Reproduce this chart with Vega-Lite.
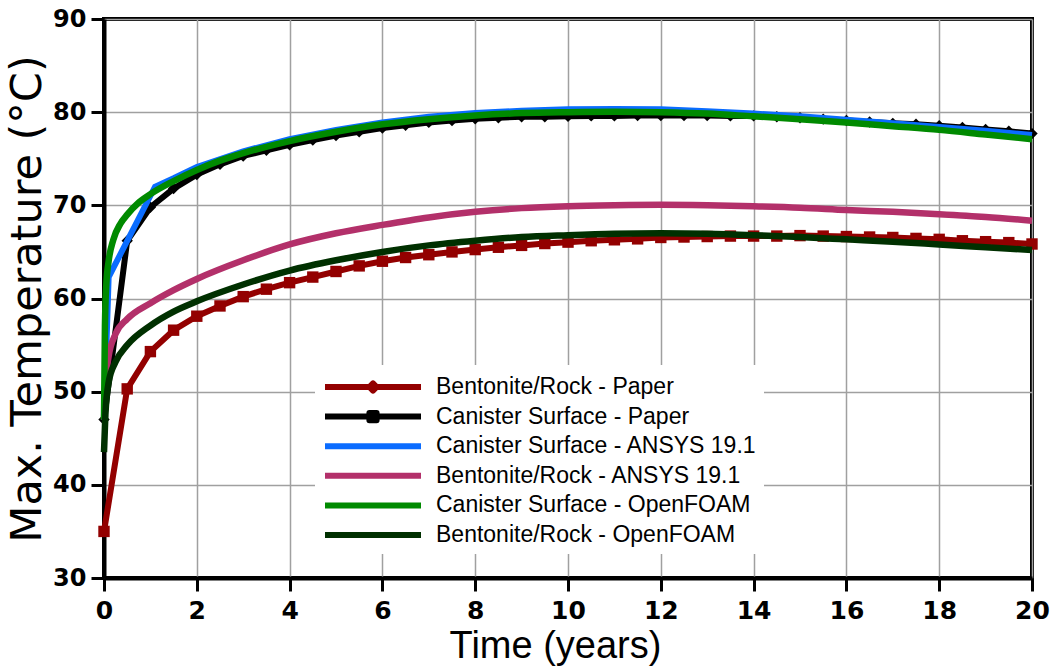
{
  "$schema": "https://vega.github.io/schema/vega-lite/v6.json",
  "width": 928,
  "height": 559,
  "autosize": "none",
  "padding": {"left": 104, "top": 19, "right": 20, "bottom": 93},
  "background": "white",
  "config": {
    "view": {"stroke": "black", "strokeWidth": 4},
    "axis": {
      "domainColor": "black", "domainWidth": 4,
      "tickColor": "black", "tickWidth": 3, "tickSize": 13,
      "gridColor": "#a0a0a0", "gridWidth": 1.5,
      "labelFont": "DejaVu Sans", "labelFontWeight": "bold", "labelFontSize": 24, "labelColor": "black",
      "titleFont": "Liberation Sans", "titleFontWeight": "normal", "titleColor": "black"
    }
  },
  "data": {"values": [
    {"t":0,"T":35,"series":"Bentonite/Rock - Paper"},{"t":0.5,"T":50.3,"series":"Bentonite/Rock - Paper"},{"t":1,"T":54.3,"series":"Bentonite/Rock - Paper"},{"t":1.5,"T":56.6,"series":"Bentonite/Rock - Paper"},{"t":2,"T":58.1,"series":"Bentonite/Rock - Paper"},{"t":2.5,"T":59.2,"series":"Bentonite/Rock - Paper"},{"t":3,"T":60.2,"series":"Bentonite/Rock - Paper"},{"t":3.5,"T":61.0,"series":"Bentonite/Rock - Paper"},{"t":4,"T":61.7,"series":"Bentonite/Rock - Paper"},{"t":4.5,"T":62.3,"series":"Bentonite/Rock - Paper"},{"t":5,"T":62.9,"series":"Bentonite/Rock - Paper"},{"t":5.5,"T":63.5,"series":"Bentonite/Rock - Paper"},{"t":6,"T":64.0,"series":"Bentonite/Rock - Paper"},{"t":6.5,"T":64.4,"series":"Bentonite/Rock - Paper"},{"t":7,"T":64.7,"series":"Bentonite/Rock - Paper"},{"t":7.5,"T":65.0,"series":"Bentonite/Rock - Paper"},{"t":8,"T":65.25,"series":"Bentonite/Rock - Paper"},{"t":8.5,"T":65.5,"series":"Bentonite/Rock - Paper"},{"t":9,"T":65.7,"series":"Bentonite/Rock - Paper"},{"t":9.5,"T":65.9,"series":"Bentonite/Rock - Paper"},{"t":10,"T":66.05,"series":"Bentonite/Rock - Paper"},{"t":10.5,"T":66.2,"series":"Bentonite/Rock - Paper"},{"t":11,"T":66.3,"series":"Bentonite/Rock - Paper"},{"t":11.5,"T":66.4,"series":"Bentonite/Rock - Paper"},{"t":12,"T":66.55,"series":"Bentonite/Rock - Paper"},{"t":12.5,"T":66.6,"series":"Bentonite/Rock - Paper"},{"t":13,"T":66.65,"series":"Bentonite/Rock - Paper"},{"t":13.5,"T":66.7,"series":"Bentonite/Rock - Paper"},{"t":14,"T":66.7,"series":"Bentonite/Rock - Paper"},{"t":14.5,"T":66.7,"series":"Bentonite/Rock - Paper"},{"t":15,"T":66.75,"series":"Bentonite/Rock - Paper"},{"t":15.5,"T":66.7,"series":"Bentonite/Rock - Paper"},{"t":16,"T":66.65,"series":"Bentonite/Rock - Paper"},{"t":16.5,"T":66.6,"series":"Bentonite/Rock - Paper"},{"t":17,"T":66.55,"series":"Bentonite/Rock - Paper"},{"t":17.5,"T":66.45,"series":"Bentonite/Rock - Paper"},{"t":18,"T":66.35,"series":"Bentonite/Rock - Paper"},{"t":18.5,"T":66.2,"series":"Bentonite/Rock - Paper"},{"t":19,"T":66.1,"series":"Bentonite/Rock - Paper"},{"t":19.5,"T":66.0,"series":"Bentonite/Rock - Paper"},{"t":20,"T":65.85,"series":"Bentonite/Rock - Paper"},
    {"t":0,"T":47,"series":"Canister Surface - Paper"},{"t":0.5,"T":66.2,"series":"Canister Surface - Paper"},{"t":1,"T":69.8,"series":"Canister Surface - Paper"},{"t":1.5,"T":71.8,"series":"Canister Surface - Paper"},{"t":2,"T":73.3,"series":"Canister Surface - Paper"},{"t":2.5,"T":74.4,"series":"Canister Surface - Paper"},{"t":3,"T":75.3,"series":"Canister Surface - Paper"},{"t":3.5,"T":75.9,"series":"Canister Surface - Paper"},{"t":4,"T":76.5,"series":"Canister Surface - Paper"},{"t":4.5,"T":77.0,"series":"Canister Surface - Paper"},{"t":5,"T":77.5,"series":"Canister Surface - Paper"},{"t":5.5,"T":77.9,"series":"Canister Surface - Paper"},{"t":6,"T":78.3,"series":"Canister Surface - Paper"},{"t":6.5,"T":78.6,"series":"Canister Surface - Paper"},{"t":7,"T":78.9,"series":"Canister Surface - Paper"},{"t":7.5,"T":79.1,"series":"Canister Surface - Paper"},{"t":8,"T":79.3,"series":"Canister Surface - Paper"},{"t":8.5,"T":79.4,"series":"Canister Surface - Paper"},{"t":9,"T":79.5,"series":"Canister Surface - Paper"},{"t":9.5,"T":79.5,"series":"Canister Surface - Paper"},{"t":10,"T":79.55,"series":"Canister Surface - Paper"},{"t":10.5,"T":79.6,"series":"Canister Surface - Paper"},{"t":11,"T":79.6,"series":"Canister Surface - Paper"},{"t":11.5,"T":79.65,"series":"Canister Surface - Paper"},{"t":12,"T":79.65,"series":"Canister Surface - Paper"},{"t":12.5,"T":79.65,"series":"Canister Surface - Paper"},{"t":13,"T":79.65,"series":"Canister Surface - Paper"},{"t":13.5,"T":79.6,"series":"Canister Surface - Paper"},{"t":14,"T":79.6,"series":"Canister Surface - Paper"},{"t":14.5,"T":79.5,"series":"Canister Surface - Paper"},{"t":15,"T":79.4,"series":"Canister Surface - Paper"},{"t":15.5,"T":79.25,"series":"Canister Surface - Paper"},{"t":16,"T":79.1,"series":"Canister Surface - Paper"},{"t":16.5,"T":78.95,"series":"Canister Surface - Paper"},{"t":17,"T":78.8,"series":"Canister Surface - Paper"},{"t":17.5,"T":78.7,"series":"Canister Surface - Paper"},{"t":18,"T":78.55,"series":"Canister Surface - Paper"},{"t":18.5,"T":78.35,"series":"Canister Surface - Paper"},{"t":19,"T":78.15,"series":"Canister Surface - Paper"},{"t":19.5,"T":77.95,"series":"Canister Surface - Paper"},{"t":20,"T":77.7,"series":"Canister Surface - Paper"},
    {"t":0,"T":47,"series":"Canister Surface - ANSYS 19.1"},{"t":0.1,"T":62.3,"series":"Canister Surface - ANSYS 19.1"},{"t":1.1,"T":72.0,"series":"Canister Surface - ANSYS 19.1"},{"t":1.5,"T":72.9,"series":"Canister Surface - ANSYS 19.1"},{"t":2,"T":74.1,"series":"Canister Surface - ANSYS 19.1"},{"t":3,"T":75.8,"series":"Canister Surface - ANSYS 19.1"},{"t":4,"T":77.1,"series":"Canister Surface - ANSYS 19.1"},{"t":5,"T":78.1,"series":"Canister Surface - ANSYS 19.1"},{"t":6,"T":78.9,"series":"Canister Surface - ANSYS 19.1"},{"t":7,"T":79.5,"series":"Canister Surface - ANSYS 19.1"},{"t":8,"T":79.9,"series":"Canister Surface - ANSYS 19.1"},{"t":9,"T":80.15,"series":"Canister Surface - ANSYS 19.1"},{"t":10,"T":80.3,"series":"Canister Surface - ANSYS 19.1"},{"t":11,"T":80.35,"series":"Canister Surface - ANSYS 19.1"},{"t":12,"T":80.3,"series":"Canister Surface - ANSYS 19.1"},{"t":13,"T":80.1,"series":"Canister Surface - ANSYS 19.1"},{"t":14,"T":79.85,"series":"Canister Surface - ANSYS 19.1"},{"t":15,"T":79.55,"series":"Canister Surface - ANSYS 19.1"},{"t":16,"T":79.2,"series":"Canister Surface - ANSYS 19.1"},{"t":17,"T":78.8,"series":"Canister Surface - ANSYS 19.1"},{"t":18,"T":78.4,"series":"Canister Surface - ANSYS 19.1"},{"t":19,"T":78.0,"series":"Canister Surface - ANSYS 19.1"},{"t":20,"T":77.55,"series":"Canister Surface - ANSYS 19.1"},
    {"t":0,"T":47,"series":"Bentonite/Rock - ANSYS 19.1"},{"t":0.03,"T":50.5,"series":"Bentonite/Rock - ANSYS 19.1"},{"t":0.1,"T":53.8,"series":"Bentonite/Rock - ANSYS 19.1"},{"t":0.25,"T":56.2,"series":"Bentonite/Rock - ANSYS 19.1"},{"t":0.5,"T":57.8,"series":"Bentonite/Rock - ANSYS 19.1"},{"t":1,"T":59.5,"series":"Bentonite/Rock - ANSYS 19.1"},{"t":1.5,"T":60.9,"series":"Bentonite/Rock - ANSYS 19.1"},{"t":2,"T":62.1,"series":"Bentonite/Rock - ANSYS 19.1"},{"t":3,"T":64.1,"series":"Bentonite/Rock - ANSYS 19.1"},{"t":4,"T":65.8,"series":"Bentonite/Rock - ANSYS 19.1"},{"t":5,"T":67.0,"series":"Bentonite/Rock - ANSYS 19.1"},{"t":6,"T":67.9,"series":"Bentonite/Rock - ANSYS 19.1"},{"t":7,"T":68.7,"series":"Bentonite/Rock - ANSYS 19.1"},{"t":8,"T":69.3,"series":"Bentonite/Rock - ANSYS 19.1"},{"t":9,"T":69.7,"series":"Bentonite/Rock - ANSYS 19.1"},{"t":10,"T":69.9,"series":"Bentonite/Rock - ANSYS 19.1"},{"t":11,"T":70.0,"series":"Bentonite/Rock - ANSYS 19.1"},{"t":12,"T":70.05,"series":"Bentonite/Rock - ANSYS 19.1"},{"t":13,"T":70.0,"series":"Bentonite/Rock - ANSYS 19.1"},{"t":14,"T":69.9,"series":"Bentonite/Rock - ANSYS 19.1"},{"t":15,"T":69.75,"series":"Bentonite/Rock - ANSYS 19.1"},{"t":16,"T":69.5,"series":"Bentonite/Rock - ANSYS 19.1"},{"t":17,"T":69.3,"series":"Bentonite/Rock - ANSYS 19.1"},{"t":18,"T":69.05,"series":"Bentonite/Rock - ANSYS 19.1"},{"t":19,"T":68.75,"series":"Bentonite/Rock - ANSYS 19.1"},{"t":20,"T":68.35,"series":"Bentonite/Rock - ANSYS 19.1"},
    {"t":0,"T":47,"series":"Canister Surface - OpenFOAM"},{"t":0.02,"T":57,"series":"Canister Surface - OpenFOAM"},{"t":0.05,"T":61.5,"series":"Canister Surface - OpenFOAM"},{"t":0.1,"T":64.0,"series":"Canister Surface - OpenFOAM"},{"t":0.2,"T":66.3,"series":"Canister Surface - OpenFOAM"},{"t":0.35,"T":68.0,"series":"Canister Surface - OpenFOAM"},{"t":0.5,"T":69.0,"series":"Canister Surface - OpenFOAM"},{"t":0.75,"T":70.3,"series":"Canister Surface - OpenFOAM"},{"t":1,"T":71.2,"series":"Canister Surface - OpenFOAM"},{"t":1.5,"T":72.6,"series":"Canister Surface - OpenFOAM"},{"t":2,"T":73.8,"series":"Canister Surface - OpenFOAM"},{"t":2.5,"T":74.8,"series":"Canister Surface - OpenFOAM"},{"t":3,"T":75.6,"series":"Canister Surface - OpenFOAM"},{"t":4,"T":76.9,"series":"Canister Surface - OpenFOAM"},{"t":5,"T":77.9,"series":"Canister Surface - OpenFOAM"},{"t":6,"T":78.7,"series":"Canister Surface - OpenFOAM"},{"t":7,"T":79.25,"series":"Canister Surface - OpenFOAM"},{"t":8,"T":79.65,"series":"Canister Surface - OpenFOAM"},{"t":9,"T":79.9,"series":"Canister Surface - OpenFOAM"},{"t":10,"T":80.0,"series":"Canister Surface - OpenFOAM"},{"t":11,"T":80.05,"series":"Canister Surface - OpenFOAM"},{"t":12,"T":80.0,"series":"Canister Surface - OpenFOAM"},{"t":13,"T":79.85,"series":"Canister Surface - OpenFOAM"},{"t":14,"T":79.55,"series":"Canister Surface - OpenFOAM"},{"t":15,"T":79.25,"series":"Canister Surface - OpenFOAM"},{"t":16,"T":78.9,"series":"Canister Surface - OpenFOAM"},{"t":17,"T":78.5,"series":"Canister Surface - OpenFOAM"},{"t":18,"T":78.1,"series":"Canister Surface - OpenFOAM"},{"t":19,"T":77.6,"series":"Canister Surface - OpenFOAM"},{"t":20,"T":77.1,"series":"Canister Surface - OpenFOAM"},
    {"t":0,"T":43.5,"series":"Bentonite/Rock - OpenFOAM"},{"t":0.03,"T":47.5,"series":"Bentonite/Rock - OpenFOAM"},{"t":0.1,"T":51.0,"series":"Bentonite/Rock - OpenFOAM"},{"t":0.25,"T":53.2,"series":"Bentonite/Rock - OpenFOAM"},{"t":0.5,"T":55.0,"series":"Bentonite/Rock - OpenFOAM"},{"t":1,"T":57.1,"series":"Bentonite/Rock - OpenFOAM"},{"t":1.5,"T":58.6,"series":"Bentonite/Rock - OpenFOAM"},{"t":2,"T":59.7,"series":"Bentonite/Rock - OpenFOAM"},{"t":3,"T":61.5,"series":"Bentonite/Rock - OpenFOAM"},{"t":4,"T":63.0,"series":"Bentonite/Rock - OpenFOAM"},{"t":5,"T":64.1,"series":"Bentonite/Rock - OpenFOAM"},{"t":6,"T":65.0,"series":"Bentonite/Rock - OpenFOAM"},{"t":7,"T":65.7,"series":"Bentonite/Rock - OpenFOAM"},{"t":8,"T":66.2,"series":"Bentonite/Rock - OpenFOAM"},{"t":9,"T":66.6,"series":"Bentonite/Rock - OpenFOAM"},{"t":10,"T":66.8,"series":"Bentonite/Rock - OpenFOAM"},{"t":11,"T":66.95,"series":"Bentonite/Rock - OpenFOAM"},{"t":12,"T":67.0,"series":"Bentonite/Rock - OpenFOAM"},{"t":13,"T":66.95,"series":"Bentonite/Rock - OpenFOAM"},{"t":14,"T":66.8,"series":"Bentonite/Rock - OpenFOAM"},{"t":15,"T":66.6,"series":"Bentonite/Rock - OpenFOAM"},{"t":16,"T":66.35,"series":"Bentonite/Rock - OpenFOAM"},{"t":17,"T":66.1,"series":"Bentonite/Rock - OpenFOAM"},{"t":18,"T":65.8,"series":"Bentonite/Rock - OpenFOAM"},{"t":19,"T":65.5,"series":"Bentonite/Rock - OpenFOAM"},{"t":20,"T":65.2,"series":"Bentonite/Rock - OpenFOAM"}
  ]},
  "encoding": {
    "x": {"field": "t", "type": "quantitative",
      "scale": {"domain": [0, 20], "nice": false},
      "axis": {"values": [0,2,4,6,8,10,12,14,16,18,20], "title": "Time (years)", "titleFontSize": 38, "titlePadding": 4, "titleX": 451, "labelPadding": 7, "labelFontSize": 25, "labelFlush": false}},
    "y": {"field": "T", "type": "quantitative",
      "scale": {"domain": [30, 90], "nice": false, "zero": false},
      "axis": {"values": [30,40,50,60,70,80,90], "title": "Max. Temperature (°C)", "titleFont": "DejaVu Sans", "titleFontSize": 43, "titlePadding": 3, "labelPadding": 5, "labelFlush": false}},
    "color": {"field": "series", "type": "nominal",
      "scale": {
        "domain": ["Bentonite/Rock - Paper", "Canister Surface - Paper", "Canister Surface - ANSYS 19.1", "Bentonite/Rock - ANSYS 19.1", "Canister Surface - OpenFOAM", "Bentonite/Rock - OpenFOAM"],
        "range": ["#930000", "#000000", "#0a6cff", "#b3306a", "#008a00", "#003000"]},
      "legend": {
        "title": null, "orient": "none", "legendX": 211, "legendY": 346,
        "fillColor": "white", "padding": 7, "strokeColor": null,
        "symbolSize": 576, "symbolStrokeWidth": 6, "rowPadding": 2.6,
        "labelFont": "Liberation Sans", "labelFontSize": 23, "labelColor": "black", "labelLimit": 600, "labelOffset": 84,
        "encode": {"symbols": {"update": {
          "shape": {"signal": "datum.value === 'Bentonite/Rock - Paper' ? 'M-1,0H7M2.7,0L3,-0.3L3.3,0L3,0.3Z' : datum.value === 'Canister Surface - Paper' ? 'M-1,0H7M2.7,-0.3H3.3V0.3H2.7Z' : 'M-1,0H7M3,-0.3M3,0.3'"},
          "fill": {"scale": "color", "field": "value"},
          "stroke": {"scale": "color", "field": "value"},
          "strokeWidth": {"value": 6},
          "strokeJoin": {"value": "round"},
          "size": {"value": 576},
          "opacity": {"value": 1},
          "fillOpacity": {"value": 1}
        }}}
      }}
  },
  "layer": [
    {"transform": [{"filter": "indexof(datum.series, 'Paper') >= 0"}],
     "mark": {"type": "line", "strokeWidth": 6}},
    {"transform": [{"filter": "indexof(datum.series, 'Paper') >= 0"}],
     "mark": {"type": "point", "filled": true, "opacity": 1, "size": 130},
     "encoding": {"shape": {"field": "series", "type": "nominal",
       "scale": {"domain": ["Bentonite/Rock - Paper", "Canister Surface - Paper"], "range": ["square", "diamond"]}, "legend": null}}},
    {"transform": [{"filter": "datum.series === 'Canister Surface - ANSYS 19.1'"}],
     "mark": {"type": "line", "strokeWidth": 6}},
    {"transform": [{"filter": "indexof(datum.series, 'Paper') < 0 && datum.series !== 'Canister Surface - ANSYS 19.1'"}],
     "mark": {"type": "line", "strokeWidth": 6.5, "interpolate": "monotone"}}
  ]
}
